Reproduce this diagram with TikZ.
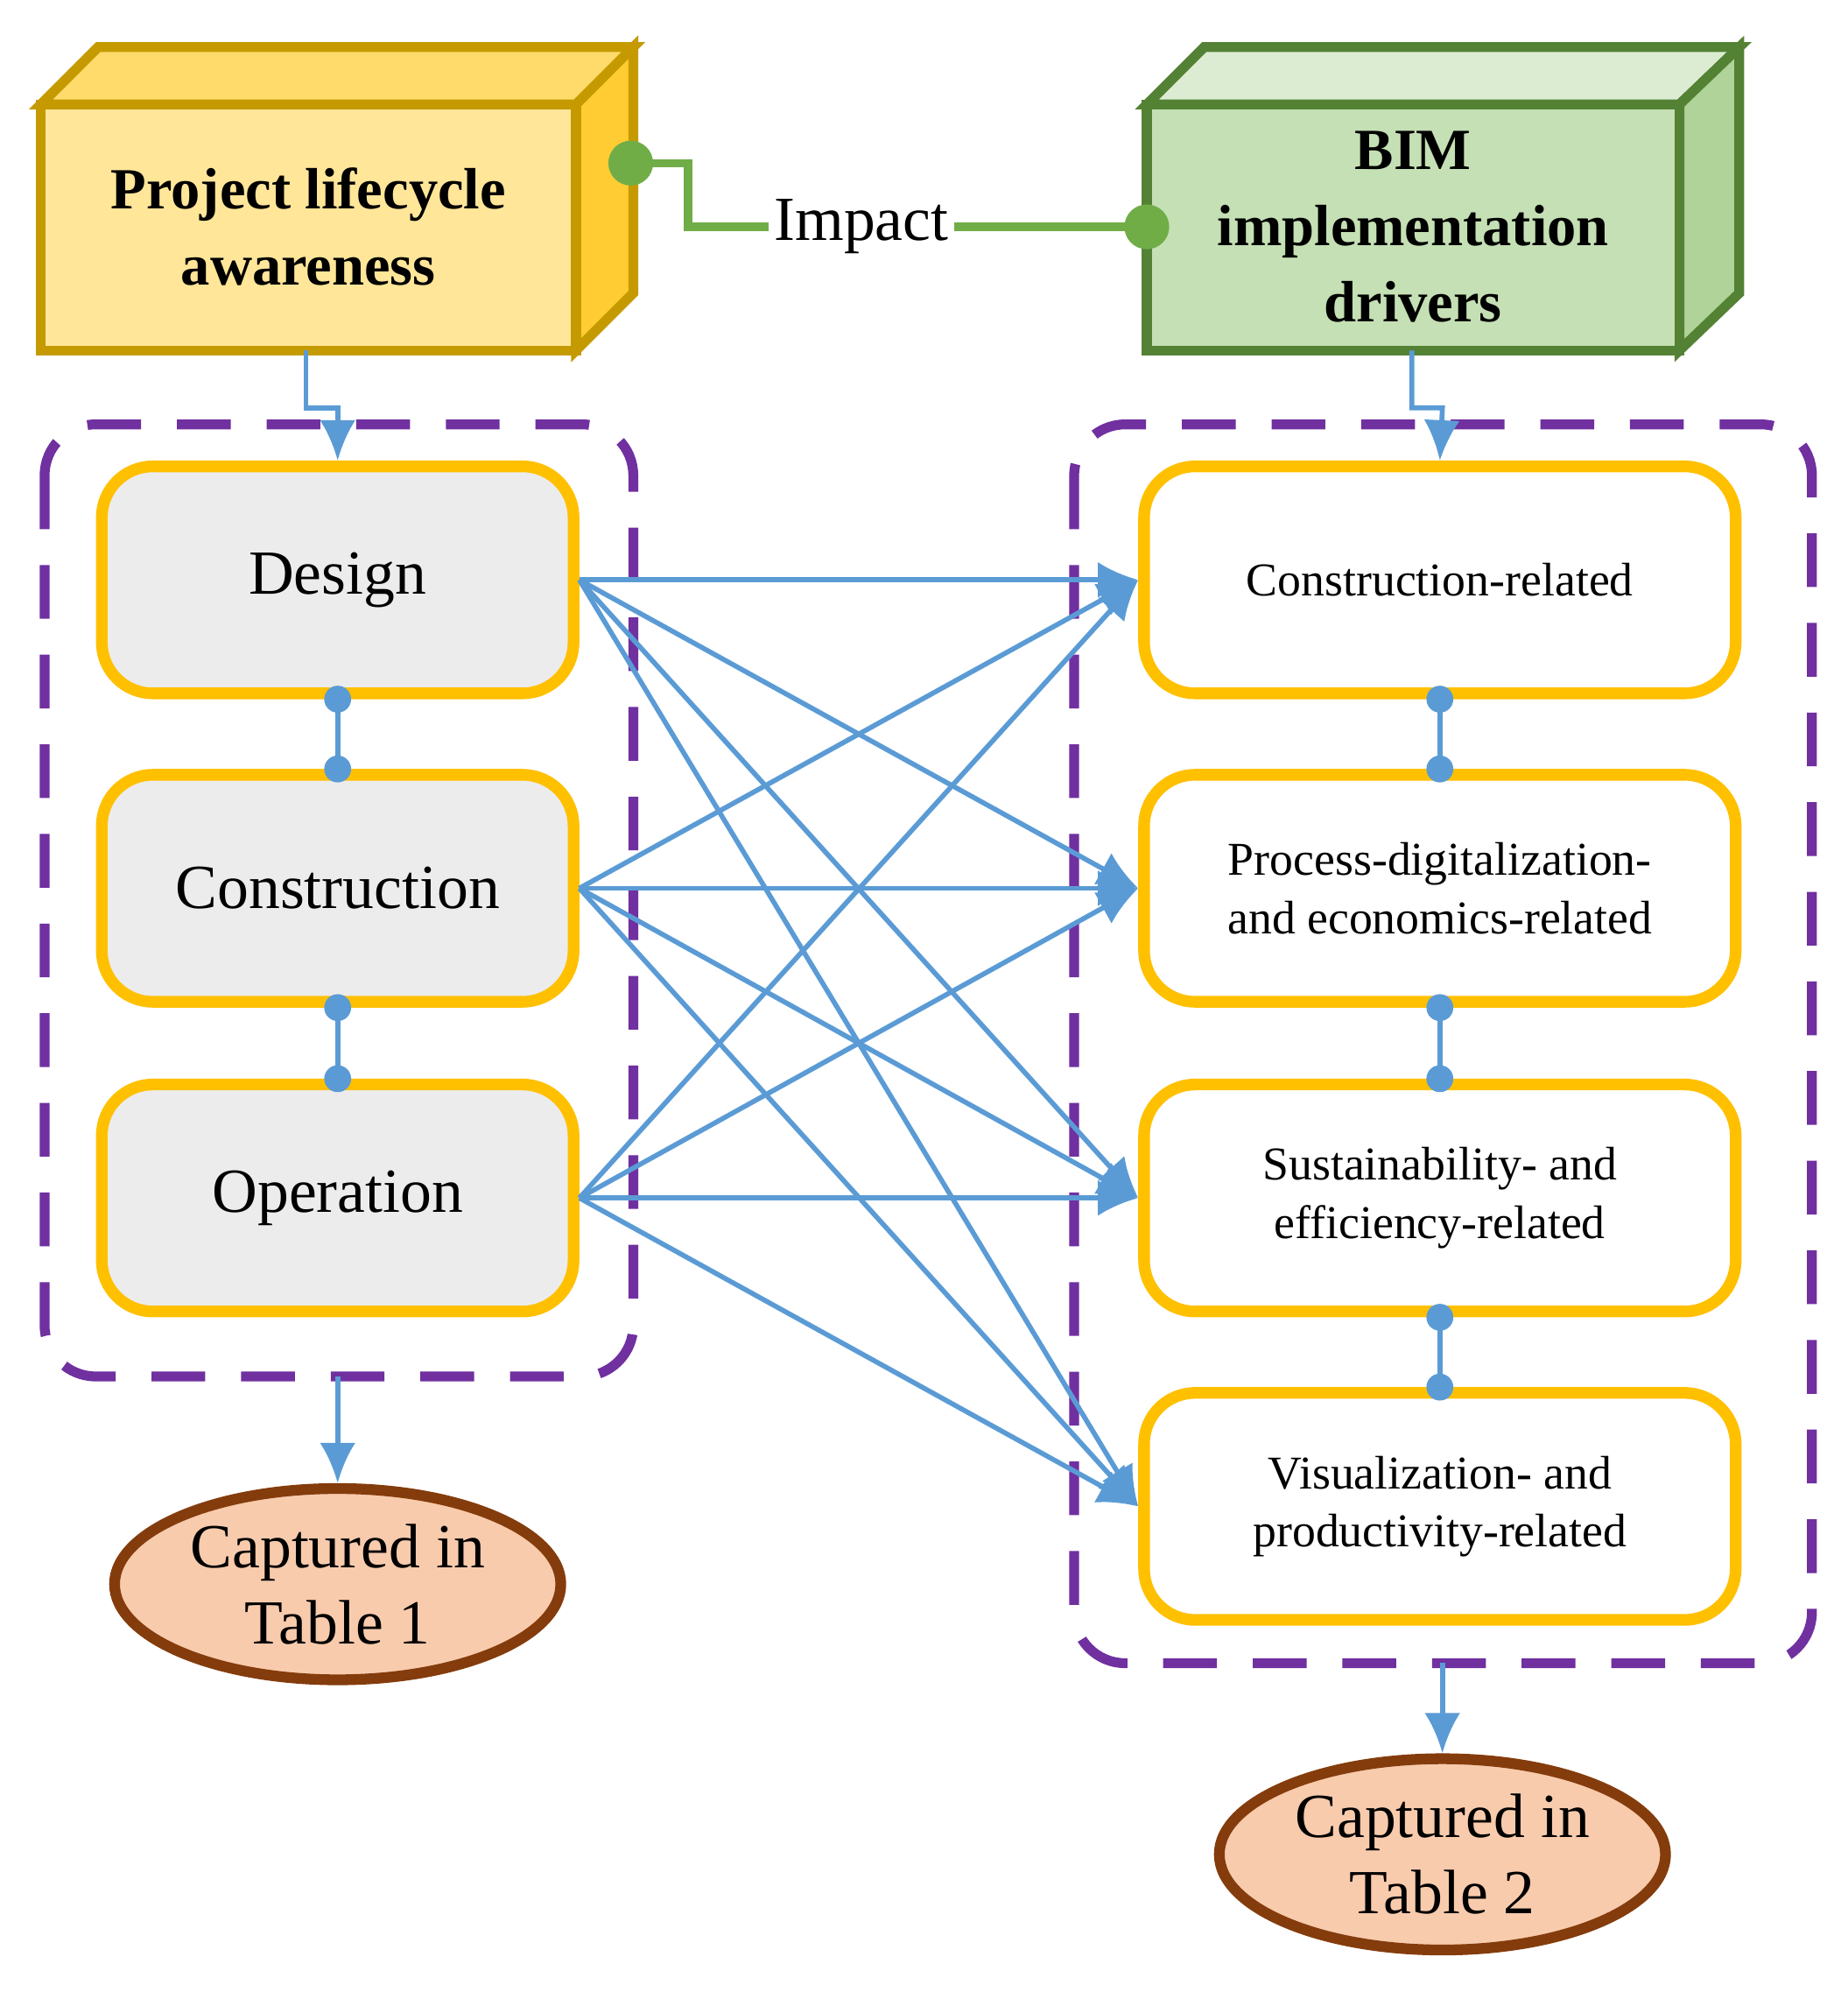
\documentclass[tikz,border=0pt]{standalone}
\usepackage{fontspec}
\setmainfont{Liberation Serif}
\usetikzlibrary{arrows.meta,shapes.geometric}
\definecolor{goldB}{HTML}{C59A00}
\definecolor{goldF}{HTML}{FFE699}
\definecolor{grnB}{HTML}{548235}
\definecolor{grnF}{HTML}{C5E0B4}
\definecolor{grnL}{HTML}{70AD47}
\definecolor{stage}{HTML}{FFC000}
\definecolor{purp}{HTML}{7030A0}
\definecolor{blu}{HTML}{5B9BD5}
\definecolor{peach}{HTML}{F8CBAD}
\definecolor{brn}{HTML}{843C0C}
\tikzset{
  stage/.style={draw=stage, line width=2.6pt, fill=gray!15, rounded corners=0.4cm,
    minimum width=3.7cm, minimum height=1.78cm, font=\fontsize{14}{16}\selectfont},
  driver/.style={stage, fill=white, minimum width=4.64cm, font=\fontsize{10.5}{13}\selectfont, align=center},
  link/.style={blu, line width=1.1pt},
  arr/.style={link, -{Latex[length=9pt,width=8pt]}},
  dot/.style={circle, fill=blu, inner sep=0pt, minimum size=6pt},
  group/.style={purp, line width=2.2pt, dash pattern=on 12pt off 8pt, rounded corners=0.4cm},
  table/.style={ellipse, draw=brn, line width=2.4pt, fill=peach, minimum width=3.5cm,
    minimum height=1.5cm, align=center, inner sep=0pt, font=\fontsize{14}{17}\selectfont}
}
\begin{document}
\begin{tikzpicture}[x=0.01cm,y=-0.01cm]
    \useasboundingbox (0,0) rectangle (1450,1574);

    % 3D header boxes
    \draw[goldB, line width=2.2pt, fill=goldF!70!stage] (32,82) -- (77,37) -- (497,37) -- (452,82) -- cycle;
    \draw[goldB, line width=2.2pt, fill=stage!80] (452,82) -- (497,37) -- (497,230) -- (452,275) -- cycle;
    \draw[goldB, line width=2.2pt, fill=goldF] (32,82) rectangle (452,275);
    \node[font=\bfseries\fontsize{13}{17}\selectfont, align=center] (plc) at (242,178) {Project lifecycle\\awareness};

    \draw[grnB, line width=2.2pt, fill=grnF!60] (900,82) -- (945,37) -- (1365,37) -- (1318,82) -- cycle;
    \draw[grnB, line width=2.2pt, fill=grnF!75!grnL] (1318,82) -- (1365,37) -- (1365,230) -- (1318,275) -- cycle;
    \draw[grnB, line width=2.2pt, fill=grnF] (900,82) rectangle (1318,275);
    \node[font=\bfseries\fontsize{13}{17}\selectfont, align=center] (bim) at (1109,178) {BIM\\implementation\\drivers};

    % Impact link
    \node[font=\fontsize{14}{16}\selectfont, inner sep=1pt] (impact) at (676,178) {Impact};
    \coordinate (lp) at (495,128);
    \coordinate (rp) at (900,178);
    \fill[grnL] (lp) circle (5pt) (rp) circle (5pt);
    \draw[grnL, line width=1.8pt] (lp) -- (540,128) -- (540,178) -- (impact.west);
    \draw[grnL, line width=1.8pt] (impact.east) -- (rp);

    % Groups
    \draw[group] (35,333) rectangle (497,1080);
    \draw[group] (843,333) rectangle (1422,1305);

    % Stages
    \node[stage] (des) at (265,455) {Design};
    \node[stage] (con) at (265,697) {Construction};
    \node[stage] (ope) at (265,940) {Operation};

    % Drivers
    \node[driver] (d1) at (1130,455) {Construction-related};
    \node[driver] (d2) at (1130,697) {Process-digitalization-\\and economics-related};
    \node[driver] (d3) at (1130,940) {Sustainability- and\\efficiency-related};
    \node[driver] (d4) at (1130,1182) {Visualization- and\\productivity-related};

    % Chains
    \foreach \a/\b in {des/con, con/ope, d1/d2, d2/d3, d3/d4}{
      \draw[link] (\a.south) node[dot]{} -- (\b.north) node[dot]{};
    }

    % Stage to driver links
    \foreach \s in {des, con, ope}{
      \foreach \d in {d1, d2, d3, d4}{
        \draw[arr] (\s.east) -- (\d.west);
      }
    }

    % Entry arrows
    \draw[arr] (240,275) -- (240,320) -- (265,320) -- (des.north);
    \draw[arr] (1108,275) -- (1108,320) -- (1132,320) -- (d1.north);

    % Tables
    \node[table] (t1) at (265,1243) {Captured in\\Table 1};
    \node[table] (t2) at (1132,1455) {Captured in\\Table 2};
    \draw[arr] (265,1080) -- (t1.north);
    \draw[arr] (1132,1305) -- (t2.north);
\end{tikzpicture}
\end{document}
